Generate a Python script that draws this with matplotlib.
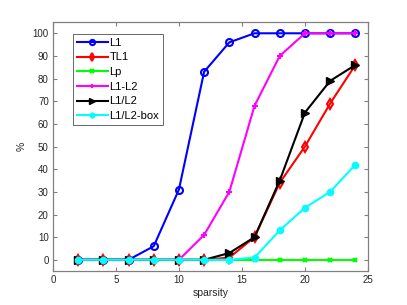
import numpy as np
import matplotlib
matplotlib.use("Agg")
import matplotlib.pyplot as plt

plt.rcParams['font.family'] = ['Liberation Sans', 'DejaVu Sans']

sparsity = [2, 4, 6, 8, 10, 12, 14, 16, 18, 20, 22, 24]
l1 = [0, 0, 0, 6, 31, 83, 96, 100, 100, 100, 100, 100]
tl1 = [0, 0, 0, 0, 0, 0, 1, 10, 34, 50, 69, 86]
lp = [0, 0, 0, 0, 0, 0, 0, 0, 0, 0, 0, 0]
l1_l2 = [0, 0, 0, 0, 0, 11, 30, 68, 90, 100, 100, 100]
l1_over_l2 = [0, 0, 0, 0, 0, 0, 3, 10, 35, 65, 79, 86]
l1_over_l2_box = [0, 0, 0, 0, 0, 0, 0, 1, 13, 23, 30, 42]

fig = plt.figure(figsize=(4.07, 3.05), dpi=100)
ax = fig.add_axes([0.13, 0.111, 0.774, 0.817])

lw = 1.5
ax.plot(sparsity, l1, color='#0000ff', marker='o', mfc='none', ms=5, mew=1.5, lw=lw, label='L1')
ax.plot(sparsity, tl1, color='#ff0000', marker='d', mfc='none', ms=5.5, mew=1.5, lw=lw, label='TL1')
ax.plot(sparsity, lp, color='#00ff00', marker='x', ms=3.5, mew=1.5, lw=lw, label='Lp')
ax.plot(sparsity, l1_l2, color='#ff00ff', marker='+', ms=4.5, mew=1.5, lw=lw, label='L1-L2')
ax.plot(sparsity, l1_over_l2, color='k', marker='>', ms=6, lw=lw, label='L1/L2')
ax.plot(sparsity, l1_over_l2_box, color='#00ffff', marker='o', ms=4.5, lw=lw, label='L1/L2-box')

ax.set_xlim(0, 25)
ax.set_ylim(-5, 105)
ax.set_xticks(np.arange(0, 26, 5))
ax.set_yticks(np.arange(0, 101, 10))
ax.tick_params(direction='in', top=True, right=True, labelsize=7, labelcolor='#262626',
               color='#808080', length=3, width=0.8, pad=3)
for s in ax.spines.values():
    s.set_color('#808080')
    s.set_linewidth(0.9)
ax.set_xlabel('sparsity', fontsize=7.5, color='#262626', labelpad=2)
ax.set_ylabel('%', fontsize=7.5, color='#262626', labelpad=4)

leg = ax.legend(loc='upper left', bbox_to_anchor=(0.063, 0.952), fontsize=8, frameon=True, fancybox=False,
                edgecolor='#404040', handlelength=2.8, labelspacing=0.42, borderpad=0.35,
                handletextpad=0.15, borderaxespad=0, markerscale=0.75)
leg.get_frame().set_linewidth(0.7)

fig.savefig('out.png', dpi=100)
